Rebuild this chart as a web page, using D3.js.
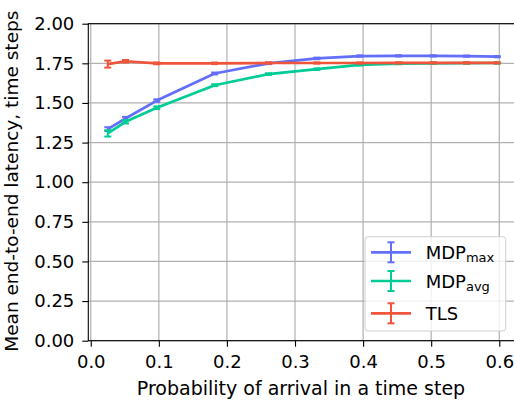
<!DOCTYPE html>
<html>
<head>
<meta charset="utf-8">
<script src="https://cdn.jsdelivr.net/npm/d3@7"></script>
<style>
  html, body { margin: 0; padding: 0; background: #fff; }
  svg { display: block; font-family: "DejaVu Sans", sans-serif; }
</style>
</head>
<body>
<svg id="chart" width="514" height="400"></svg>
<script>
// ---- data ----
const probs = [0.025, 0.051, 0.097, 0.182, 0.261, 0.332, 0.395, 0.452, 0.503, 0.552, 0.597];
const mdpMax = [1.335, 1.402, 1.515, 1.686, 1.750, 1.781, 1.796, 1.797, 1.797, 1.795, 1.792];
const mdpMaxErr = [0.012, 0.010, 0.008, 0.006, 0.005, 0.005, 0.004, 0.004, 0.004, 0.004, 0.004];
const mdpAvg = [1.308, 1.381, 1.470, 1.612, 1.682, 1.713, 1.740, 1.748, 1.750, 1.751, 1.752];
const mdpAvgErr = [0.020, 0.010, 0.008, 0.006, 0.005, 0.005, 0.004, 0.004, 0.004, 0.004, 0.004];
const tls = [1.745, 1.763, 1.750, 1.750, 1.752, 1.752, 1.752, 1.753, 1.753, 1.753, 1.753];
const tlsErr = [0.022, 0.008, 0.006, 0.005, 0.004, 0.004, 0.004, 0.004, 0.004, 0.004, 0.004];
const xTicks = [0.0, 0.1, 0.2, 0.3, 0.4, 0.5, 0.6];
const yTicks = [0.00, 0.25, 0.50, 0.75, 1.00, 1.25, 1.50, 1.75, 2.00];
const seriesNames = ["MDP", "MDP", "TLS"];
const seriesSubs = ["max", "avg", ""];
const colors = ["#636EFA", "#00CC96", "#EF553B"];

const series = [
  {name: seriesNames[0], sub: seriesSubs[0], y: mdpMax, e: mdpMaxErr, color: colors[0]},
  {name: seriesNames[1], sub: seriesSubs[1], y: mdpAvg, e: mdpAvgErr, color: colors[1]},
  {name: seriesNames[2], sub: seriesSubs[2], y: tls, e: tlsErr, color: colors[2]}
];

// ---- layout ----
const L = 88.3, R = 516.7, T = 23.7, B = 340.7;
const svg = d3.select("#chart");
const x = d3.scaleLinear().domain([-0.0036, 0.6256]).range([L, R]);
const y = d3.scaleLinear().domain([0, 2]).range([B, T]);

// grid
const grid = svg.append("g");
grid.selectAll(".gx").data(xTicks).join("line")
  .attr("x1", d => x(d)).attr("x2", d => x(d)).attr("y1", T).attr("y2", B)
  .attr("stroke", "#b0b0b0").attr("stroke-width", 1.2);
grid.selectAll(".gy").data(yTicks).join("line")
  .attr("x1", L).attr("x2", R).attr("y1", d => y(d)).attr("y2", d => y(d))
  .attr("stroke", "#b0b0b0").attr("stroke-width", 1.2);

// series
const line = d3.line().x((d, i) => x(probs[i])).y(d => y(d));
series.forEach(s => {
  const g = svg.append("g");
  g.append("path").datum(s.y).attr("d", line)
    .attr("fill", "none").attr("stroke", s.color).attr("stroke-width", 2.7)
    .attr("stroke-linejoin", "round");
  s.y.forEach((v, i) => {
    const cx = x(probs[i]);
    const y1 = y(v - s.e[i]), y2 = y(v + s.e[i]);
    g.append("line").attr("x1", cx).attr("x2", cx).attr("y1", y1).attr("y2", y2)
      .attr("stroke", s.color).attr("stroke-width", 2);
    [y1, y2].forEach(yy => g.append("line")
      .attr("x1", cx - 3.5).attr("x2", cx + 3.5).attr("y1", yy).attr("y2", yy)
      .attr("stroke", s.color).attr("stroke-width", 2));
  });
});

// axes
const fs = 18, lfs = 19;
const xAxis = d3.axisBottom(x).tickValues(xTicks).tickFormat(d3.format(".1f")).tickSize(6).tickPadding(9);
const yAxis = d3.axisLeft(y).tickValues(yTicks).tickFormat(d3.format(".2f")).tickSize(6).tickPadding(8);
const gx = svg.append("g").attr("transform", `translate(0,${B})`).call(xAxis);
const gy = svg.append("g").attr("transform", `translate(${L},0)`).call(yAxis);
[gx, gy].forEach(g => {
  g.select(".domain").remove();
  g.selectAll(".tick line").attr("stroke", "#000").attr("stroke-width", 1.1);
  g.selectAll(".tick text").attr("fill", "#000").attr("font-size", fs)
    .attr("font-family", "DejaVu Sans, sans-serif");
});

// spines
svg.append("rect").attr("x", L).attr("y", T).attr("width", R - L).attr("height", B - T)
  .attr("fill", "none").attr("stroke", "#000").attr("stroke-width", 1.1);

// axis labels
svg.append("text").attr("x", 301).attr("y", 395).attr("text-anchor", "middle")
  .attr("font-size", lfs).attr("fill", "#000").text("Probability of arrival in a time step");
svg.append("text").attr("transform", `translate(18,${(T + B) / 2 - 1}) rotate(-90)`)
  .attr("text-anchor", "middle").attr("font-size", 18.5).attr("fill", "#000")
  .text("Mean end-to-end latency, time steps");

// legend
const lg = svg.append("g");
lg.append("rect").attr("x", 365).attr("y", 236.7).attr("width", 140.7).attr("height", 94.3)
  .attr("rx", 3).attr("fill", "#fff").attr("fill-opacity", 0.8)
  .attr("stroke", "#d0d0d0").attr("stroke-width", 1);
const rowY = [252.3, 281, 313.3];
series.forEach((s, i) => {
  const cy = rowY[i];
  lg.append("line").attr("x1", 371).attr("x2", 411).attr("y1", cy).attr("y2", cy)
    .attr("stroke", s.color).attr("stroke-width", 2.7);
  lg.append("line").attr("x1", 391).attr("x2", 391).attr("y1", cy - 10).attr("y2", cy + 10)
    .attr("stroke", s.color).attr("stroke-width", 2);
  [cy - 10, cy + 10].forEach(yy => lg.append("line")
    .attr("x1", 387.5).attr("x2", 394.5).attr("y1", yy).attr("y2", yy)
    .attr("stroke", s.color).attr("stroke-width", 2));
  const t = lg.append("text").attr("x", 425.7).attr("y", cy + 6.7)
    .attr("font-size", fs).attr("fill", "#000");
  t.append("tspan").text(s.name);
  if (s.sub) t.append("tspan").attr("font-size", 13).attr("dy", 3).text(s.sub);
});
</script>
</body>
</html>
